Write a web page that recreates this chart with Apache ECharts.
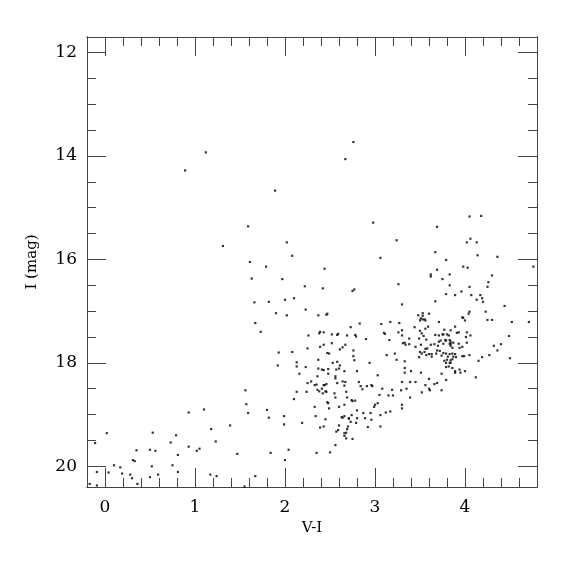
<!DOCTYPE html>
<html><head><meta charset="utf-8">
<script src="https://cdn.jsdelivr.net/npm/echarts@6/dist/echarts.min.js"></script>
<style>html,body{margin:0;padding:0;background:#fff}#c{width:575px;height:575px}</style>
</head><body><div id="c"></div>
<script>
// Axis ranges and ticks
const xRange = [-0.2, 4.8];
const yRange = [11.7, 20.4];
const xMajorTicks = [0, 1, 2, 3, 4];
const xMinorTicks = [-0.2, 0, 0.2, 0.4, 0.6, 0.8, 1, 1.2, 1.4, 1.6, 1.8, 2, 2.2, 2.4, 2.6, 2.8, 3, 3.2, 3.4, 3.6, 3.8, 4, 4.2, 4.4, 4.6, 4.8];
const yMajorTicks = [12, 14, 16, 18, 20];
const yMinorTicks = [12, 12.5, 13, 13.5, 14, 14.5, 15, 15.5, 16, 16.5, 17, 17.5, 18, 18.5, 19, 19.5, 20];
const xTitle = 'V-I';
const yTitle = 'I (mag)';

// Stars: [V-I, I]
const brightStars = [
  [2.76,13.73],[2.67,14.06],[1.12,13.93],[0.89,14.28],[1.89,14.67],[1.59,15.36],[2.98,15.29],
  [3.69,15.37],[4.05,15.17],[4.18,15.16],[1.31,15.74],[3.24,15.63],[2.02,15.67],[2.08,15.93],
  [4.02,15.67],[4.06,15.60],[4.13,15.67],[4.14,15.92],[4.36,15.95],[4.76,16.14],[3.06,15.97],
  [3.67,15.86],[3.79,16.01],[3.98,16.14],[4.03,16.16],[3.62,16.29],[3.62,16.33],[3.69,16.20],
  [3.75,16.38],[3.83,16.29],[4.30,16.31],[4.26,16.44],[4.25,16.53],[3.83,16.50],[3.79,16.67],
  [3.89,16.69],[3.96,16.62],[4.05,16.53],[4.07,16.69],[4.17,16.69],[4.13,16.78],[4.19,16.75],
  [4.20,16.82],[3.67,16.81],[4.44,16.90],[4.23,17.01],[4.05,17.01],[4.04,17.05],[4.25,17.17],
  [4.30,17.17],[4.52,17.21],[4.71,17.21],[4.49,17.48],[4.50,17.91],[4.36,17.76],[4.40,17.64],
  [4.32,17.67],[4.27,17.85],[4.19,17.89],[4.15,17.96],[4.12,18.28],[4.05,17.85],[3.98,17.13],
  [4.00,17.18],[3.97,17.12]
];
const middleStars = [
  [1.61,16.05],[1.63,16.37],[1.79,16.14],[1.97,16.38],[1.66,16.83],[1.82,16.82],[2.00,16.78],
  [2.10,16.75],[1.67,17.23],[1.73,17.40],[1.90,17.04],[2.02,17.08],[2.22,16.52],[2.44,16.18],
  [2.42,16.56],[2.23,16.97],[2.37,17.08],[2.46,17.07],[2.47,17.05],[2.75,16.61],[2.77,16.58],
  [1.93,17.80],[1.92,18.05],[2.08,17.79],[2.13,17.99],[2.13,18.07],[2.16,18.21],[2.23,18.08],
  [2.26,17.47],[2.25,17.72],[2.13,18.56],[2.10,18.70],[2.24,18.56],[2.29,18.36],[2.25,18.39],
  [2.38,17.43],[2.39,17.40],[2.43,17.41],[2.39,17.69],[2.43,17.65],[2.47,17.81],[2.49,17.82],
  [2.52,17.45],[2.52,17.62],[2.58,17.46],[2.59,17.44],[2.61,17.74],[2.64,17.70],[2.67,17.65],
  [2.69,17.47],[2.73,17.31],[2.78,17.46],[2.79,17.49],[2.83,17.24],[2.90,17.54],[2.76,17.76],
  [2.76,17.87],[2.77,17.95],[2.37,17.94],[2.37,18.11],[2.36,18.26],[2.41,18.13],[2.43,18.14],
  [2.48,18.12],[2.48,18.21],[2.53,18.00],[2.58,17.98],[2.57,18.13],[2.60,18.11],[2.61,18.05],
  [2.66,18.16],[2.56,18.26],[2.56,18.30],[2.58,18.39],[2.64,18.36],[2.67,18.37],[2.66,18.44],
  [2.80,18.16],[2.82,18.37],[2.84,18.45],[2.86,18.51],[2.91,18.45],[2.96,18.43],[2.97,18.45],
  [2.94,18.00],[3.03,18.24],[2.33,18.43],[2.35,18.42],[2.36,18.52],[2.38,18.55],[2.42,18.59],
  [2.41,18.50],[2.43,18.43],[2.44,18.43],[2.46,18.41],[2.46,18.56],[2.45,18.55],[2.47,18.76],
  [2.48,18.78],[2.49,18.88],[2.55,18.59],[2.56,18.67],[2.68,18.56],[2.69,18.67],[2.74,18.72],
  [2.75,18.74],[2.78,18.73],[2.66,18.81],[2.60,18.85],[2.33,18.85],[2.34,19.03],[2.45,19.09],
  [2.39,19.25],[2.43,19.23],[2.63,19.05],[2.64,19.06],[2.66,19.03],[2.71,19.07],[2.71,19.08],
  [2.74,19.01],[2.80,18.92],[2.80,19.07],[2.79,19.16],[2.73,19.14],[2.70,19.23],[2.69,19.28],
  [2.66,19.36],[2.68,19.35],[2.66,19.41],[2.68,19.46],[2.75,19.47],[2.60,19.21],[2.59,19.30],
  [2.57,19.33],[2.56,19.59],[2.50,19.73],[2.35,19.74],[2.19,19.16],[2.87,18.97],[2.89,19.07],
  [2.95,18.97],[2.96,19.10],[2.92,19.24],[2.99,18.85],[3.00,18.81],[3.03,18.78],[3.05,18.62],
  [3.08,18.50],[3.06,19.01],[3.06,19.23],[3.12,18.96],[3.17,18.94],[3.15,18.63],[3.20,18.63],
  [3.19,18.52],[3.30,18.81],[3.30,18.88],[3.30,18.37],[3.29,18.53],[3.35,18.50],[3.39,18.37],
  [3.40,18.16],[3.39,18.67],[3.33,18.19],[3.33,18.10],[3.33,17.97],[3.22,17.82],[3.24,17.94],
  [3.13,17.85]
];
const redStars = [
  [3.10,17.42],[3.11,17.44],[3.07,17.25],[3.16,17.56],[3.17,17.21],[3.26,17.41],[3.27,17.23],
  [3.26,16.48],[3.30,16.87],[3.30,17.37],[3.30,17.47],[3.31,17.62],[3.33,17.61],[3.34,17.65],
  [3.38,17.53],[3.38,17.64],[3.45,17.69],[3.49,17.53],[3.44,17.31],[3.48,17.08],[3.50,17.18],
  [3.51,17.14],[3.53,17.16],[3.55,17.16],[3.53,17.04],[3.53,17.09],[3.56,17.18],[3.60,17.05],
  [3.59,17.30],[3.50,17.38],[3.52,17.43],[3.54,17.48],[3.56,17.34],[3.57,17.55],[3.51,17.65],
  [3.56,17.73],[3.58,17.72],[3.62,17.65],[3.50,17.79],[3.52,17.82],[3.55,17.79],[3.49,17.89],
  [3.57,17.85],[3.63,17.88],[3.63,17.83],[3.66,17.64],[3.67,17.46],[3.71,17.21],[3.71,17.47],
  [3.70,17.67],[3.71,17.59],[3.69,17.76],[3.68,17.82],[3.73,17.57],[3.75,17.45],[3.78,17.56],
  [3.76,17.63],[3.76,17.45],[3.77,17.36],[3.80,17.45],[3.82,17.47],[3.79,17.57],[3.83,17.56],
  [3.84,17.59],[3.84,17.63],[3.87,17.61],[3.83,17.63],[3.84,17.67],[3.86,17.71],[3.93,17.63],
  [3.94,17.71],[3.97,17.69],[4.02,17.61],[4.01,17.50],[4.06,17.47],[3.89,17.30],[3.91,17.42],
  [3.84,17.37],[3.93,17.41],[4.02,17.41],[3.72,17.77],[3.74,17.86],[3.76,17.81],[3.79,17.82],
  [3.81,17.88],[3.83,17.83],[3.86,17.82],[3.87,17.88],[3.89,17.83],[3.90,17.89],[3.97,17.87],
  [3.99,17.87],[3.77,17.96],[3.80,17.94],[3.79,18.00],[3.83,18.00],[3.84,17.95],[3.86,17.93],
  [3.84,18.00],[3.86,18.10],[3.82,18.07],[3.79,18.08],[3.89,18.16],[3.89,18.19],[3.94,18.13],
  [3.95,18.19],[4.00,18.16],[3.79,18.33],[3.74,18.21],[3.66,18.41],[3.69,18.39],[3.74,18.53],
  [3.60,18.31],[3.56,18.43],[3.60,18.50],[3.61,18.53],[3.52,18.57],[3.51,18.19],[3.60,17.83],
  [3.45,18.37]
];
const blueStars = [
  [-0.11,19.55],[0.02,19.36],[-0.09,20.11],[-0.17,20.34],[-0.09,20.37],[0.04,20.12],[0.10,19.98],
  [0.17,20.02],[0.19,20.14],[0.28,20.16],[0.30,20.23],[0.36,20.34],[0.31,19.88],[0.33,19.90],
  [0.35,19.69],[0.50,19.68],[0.56,19.70],[0.52,20.00],[0.50,20.21],[0.59,20.16],[0.53,19.35],
  [0.73,19.54],[0.79,19.40],[0.81,19.78],[0.75,19.98],[0.81,20.11],[0.93,18.96],[0.93,19.62],
  [1.02,19.70],[1.05,19.66],[1.10,18.90],[1.18,19.28],[1.23,19.52],[1.17,20.16],[1.24,20.19],
  [1.39,19.21],[1.47,19.76],[1.55,20.39],[1.56,18.53],[1.57,18.80],[1.59,18.97],[1.67,20.19],
  [1.80,18.91],[1.82,19.06],[1.84,19.74],[1.99,19.03],[1.99,19.19],[2.00,19.88],[2.04,19.68]
];

const lineColor = '#444';
const fontFam = '"DejaVu Serif", serif';

function xAx(pos, ticks, len, withLabel) {
  return {
    type: 'value', position: pos, min: xRange[0], max: xRange[1],
    name: withLabel ? xTitle : '', nameLocation: 'middle', nameGap: 31,
    nameTextStyle: { fontFamily: fontFam, fontSize: 15, color: '#000' },
    axisLine: { show: true, onZero: false, lineStyle: { color: lineColor, width: 1 } },
    axisTick: { show: true, inside: true, length: len, customValues: ticks, lineStyle: { color: lineColor, width: 1 } },
    axisLabel: { show: withLabel, customValues: xMajorTicks, margin: 12, fontFamily: fontFam, fontSize: 17, color: '#000' },
    splitLine: { show: false }
  };
}
function yAx(pos, ticks, len, withLabel) {
  return {
    type: 'value', position: pos, min: yRange[0], max: yRange[1], inverse: true,
    name: withLabel ? yTitle : '', nameLocation: 'middle', nameGap: 47,
    nameTextStyle: { fontFamily: fontFam, fontSize: 15, color: '#000' },
    axisLine: { show: true, onZero: false, lineStyle: { color: lineColor, width: 1 } },
    axisTick: { show: true, inside: true, length: len, customValues: ticks, lineStyle: { color: lineColor, width: 1 } },
    axisLabel: { show: withLabel, customValues: yMajorTicks, margin: 10, fontFamily: fontFam, fontSize: 17, color: '#000' },
    splitLine: { show: false }
  };
}

const allStars = [].concat(brightStars, middleStars, redStars, blueStars);

const chart = echarts.init(document.getElementById('c'), null, { renderer: 'canvas' });
chart.setOption({
  animation: false,
  backgroundColor: '#fff',
  grid: { left: 87, top: 37, right: 38, bottom: 88, containLabel: false },
  xAxis: [
    xAx('bottom', xMajorTicks, 19, true),
    xAx('bottom', xMinorTicks, 9, false),
    xAx('top', xMajorTicks, 19, false),
    xAx('top', xMinorTicks, 9, false)
  ],
  yAxis: [
    yAx('left', yMajorTicks, 19, true),
    yAx('left', yMinorTicks, 9, false),
    yAx('right', yMajorTicks, 19, false),
    yAx('right', yMinorTicks, 9, false)
  ],
  series: [{
    type: 'scatter', xAxisIndex: 0, yAxisIndex: 0,
    symbol: 'rect', symbolSize: 2.2,
    itemStyle: { color: '#000' },
    data: allStars
  }]
});
</script>
</body></html>
